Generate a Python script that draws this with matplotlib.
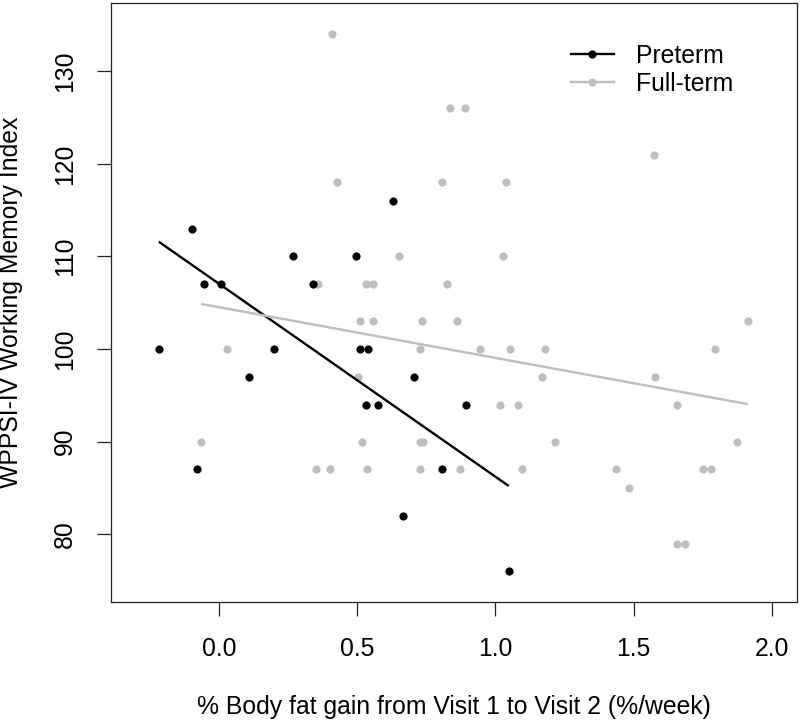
import numpy as np
import matplotlib
matplotlib.use("Agg")
import matplotlib.pyplot as plt
from matplotlib.lines import Line2D

plt.rcParams['font.family'] = ['Liberation Sans', 'DejaVu Sans']

# Preterm group
pre_x = [-0.218, -0.097, -0.078, -0.054, 0.006, 0.107, 0.200, 0.268, 0.341, 0.497,
         0.509, 0.531, 0.540, 0.574, 0.631, 0.665, 0.706, 0.808, 0.892, 1.048]
pre_y = [100, 113, 87, 107, 107, 97, 100, 110, 107, 110,
         100, 94, 100, 94, 116, 82, 97, 87, 94, 76]

# Full-term group
full_x = [-0.065, 0.028, 0.350, 0.357, 0.400, 0.408, 0.428, 0.503, 0.510, 0.519,
          0.531, 0.534, 0.558, 0.558, 0.650, 0.726, 0.726, 0.727, 0.736, 0.739,
          0.807, 0.823, 0.836, 0.861, 0.872, 0.891, 0.944, 1.015, 1.029, 1.039,
          1.053, 1.083, 1.096, 1.167, 1.181, 1.214, 1.436, 1.482, 1.574, 1.576,
          1.656, 1.658, 1.687, 1.752, 1.779, 1.793, 1.874, 1.914]
full_y = [90, 100, 87, 107, 87, 134, 118, 97, 103, 90,
          107, 87, 107, 103, 110, 100, 87, 90, 103, 90,
          118, 107, 126, 103, 87, 126, 100, 94, 110, 118,
          100, 94, 87, 97, 100, 90, 87, 85, 121, 97,
          79, 94, 79, 87, 87, 100, 90, 103]

# fitted (model) lines as shown in the chart: intercept, slope
pre_fit = [107.05, -20.83]
full_fit = [104.52, -5.47]

x_ticks = [0.0, 0.5, 1.0, 1.5, 2.0]
x_tick_labels = ["0.0", "0.5", "1.0", "1.5", "2.0"]
y_ticks = [80, 90, 100, 110, 120, 130]
y_tick_labels = ["80", "90", "100", "110", "120", "130"]
series_names = ["Preterm", "Full-term"]

GRAY = "#BEBEBE"
FS = 17.8

fig = plt.figure(figsize=(8.0, 7.23), dpi=100)
ax = fig.add_axes([110.7 / 800, (723 - 602.3) / 723, (796.7 - 110.7) / 800, (602.3 - 2.7) / 723])

ax.scatter(full_x, full_y, s=5.9**2, color=GRAY, linewidths=0, zorder=2)
ax.scatter(pre_x, pre_y, s=5.9**2, color="black", linewidths=0, zorder=3)

# fitted lines over each group's data range
for xs, fit, c in [(pre_x, pre_fit, "black"), (full_x, full_fit, GRAY)]:
    xs = np.asarray(xs, float)
    xr = np.array([xs.min(), xs.max()])
    ax.plot(xr, fit[0] + fit[1] * xr, color=c, lw=1.7, zorder=4, solid_capstyle='butt')

ax.set_xlim(-0.392, 2.090)
ax.set_ylim(72.66, 137.4)
ax.set_xticks(x_ticks)
ax.set_xticklabels(x_tick_labels)
ax.set_yticks(y_ticks)
ax.set_yticklabels(y_tick_labels, rotation=90, va="center")

for s in ax.spines.values():
    s.set_linewidth(0.9)
    s.set_color("#222222")
ax.tick_params(axis="both", length=10.3, width=0.9, color="#222222", labelsize=FS)
ax.tick_params(axis="x", pad=15)
ax.tick_params(axis="y", pad=14)

ax.set_xlabel("% Body fat gain from Visit 1 to Visit 2 (%/week)", fontsize=FS, va="center")
ax.xaxis.set_label_coords(0.5, (602.3 - 707) / 599.6)
ax.set_ylabel("WPPSI-IV Working Memory Index", fontsize=FS, va="center")
ax.yaxis.set_label_coords((11 - 110.7) / 686, 0.5)

handles = [Line2D([0], [0], color="black", lw=1.7, marker="o", markersize=5.9, markeredgewidth=0),
           Line2D([0], [0], color=GRAY, lw=1.7, marker="o", markersize=5.9, markeredgewidth=0)]
ax.legend(handles, series_names, loc="upper left",
          bbox_to_anchor=((570.7 - 110.7) / 686, (602.3 - 44) / 599.6),
          frameon=False, fontsize=FS, handlelength=1.74, handletextpad=0.92,
          borderpad=0, borderaxespad=0, labelspacing=0.15)

fig.savefig("out.png", dpi=100)
